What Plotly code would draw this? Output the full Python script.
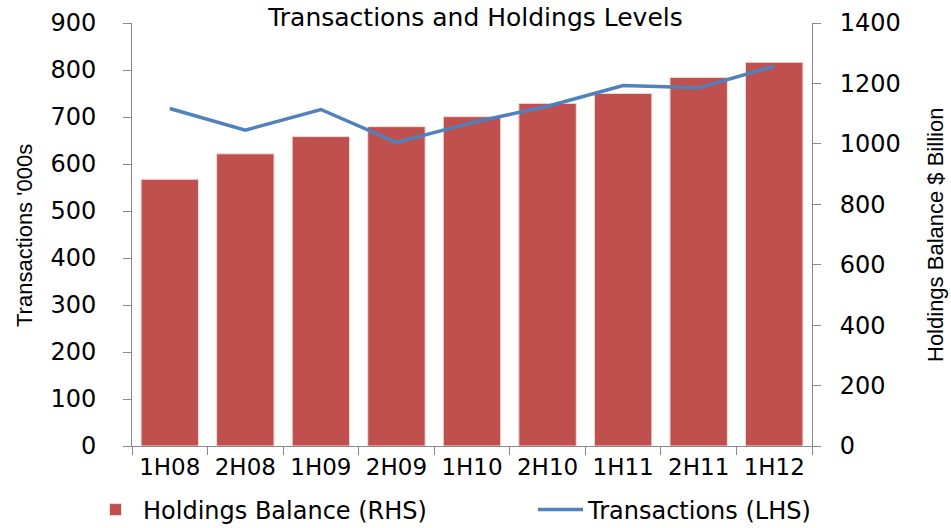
import plotly.graph_objects as go

categories = ["1H08", "2H08", "1H09", "2H09", "1H10", "2H10", "1H11", "2H11", "1H12"]
holdings = [883, 967, 1024, 1057, 1090, 1134, 1167, 1220, 1270]
transactions = [718, 672, 716, 646, 688, 723, 767, 762, 808]
left_ticks = [0, 100, 200, 300, 400, 500, 600, 700, 800, 900]
right_ticks = [0, 200, 400, 600, 800, 1000, 1200, 1400]

FONT = "DejaVu Sans, Liberation Sans, Arial, sans-serif"
TITLE_FONT = "Liberation Sans, Arial, sans-serif"

fig = go.Figure()
# bars on the primary (right-side) axis so that the line (overlaying axis) draws on top
fig.add_trace(go.Bar(
    x=categories, y=holdings, name="Holdings Balance (RHS)", yaxis="y", legend="legend",
    marker=dict(color="#C0504D", line=dict(color="#F2DCDB", width=1)),
))
fig.add_trace(go.Scatter(
    x=categories, y=transactions, name="Transactions (LHS)", mode="lines", yaxis="y2",
    legend="legend2", line=dict(color="#4F81BD", width=3.5),
))

legend_common = dict(orientation="h", xref="container", xanchor="left",
                     yref="container", y=1 - 510 / 528, yanchor="middle",
                     font=dict(family=FONT, size=24, color="#000"),
                     itemwidth=45, bgcolor="rgba(0,0,0,0)")

fig.update_layout(
    width=951, height=528,
    margin=dict(l=132, r=139, t=23, b=82, autoexpand=False),
    paper_bgcolor="white", plot_bgcolor="white",
    title=dict(text="Transactions and Holdings Levels", x=0.5, xanchor="center",
               xref="container", y=1 - 17 / 528, yanchor="middle",
               font=dict(family=FONT, size=25, color="#000")),
    bargap=0.24,
    showlegend=True,
    legend=dict(x=88 / 951, **legend_common),
    legend2=dict(x=533 / 951, **legend_common),
    xaxis=dict(type="category", tickson="boundaries", ticks="outside", ticklen=8,
               tickcolor="#888", showline=True, linecolor="#888", linewidth=1,
               showgrid=False, automargin=False,
               tickfont=dict(family=FONT, size=23, color="#000")),
    yaxis=dict(range=[0, 1400], tickvals=right_ticks, side="right",
               ticks="outside", ticklen=8, tickcolor="#888", showline=True,
               linecolor="#888", linewidth=1, showgrid=False, zeroline=False,
               automargin=False, ticklabelstandoff=14,
               tickfont=dict(family=FONT, size=24, color="#000")),
    yaxis2=dict(range=[0, 900], tickvals=left_ticks, overlaying="y", side="left",
                ticks="outside", ticklen=8, tickcolor="#888", showline=True,
                linecolor="#888", linewidth=1, showgrid=False, zeroline=False,
                automargin=False, ticklabelstandoff=22,
                tickfont=dict(family=FONT, size=24, color="#000")),
    annotations=[
        dict(text="Transactions '000s", xref="paper", yref="paper",
             x=(25 - 132) / 680, y=(446 - 236) / 423, xanchor="center", yanchor="middle",
             textangle=-90, showarrow=False,
             font=dict(family=TITLE_FONT, size=22, color="#000")),
        dict(text="Holdings Balance $ Billion", xref="paper", yref="paper",
             x=(935 - 132) / 680, y=(446 - 235) / 423, xanchor="center", yanchor="middle",
             textangle=-90, showarrow=False,
             font=dict(family=TITLE_FONT, size=22, color="#000")),
    ],
)

fig.write_html("out.html", config={"displayModeBar": False},
               post_script="document.body.style.margin='0';document.body.style.overflow='hidden';")
